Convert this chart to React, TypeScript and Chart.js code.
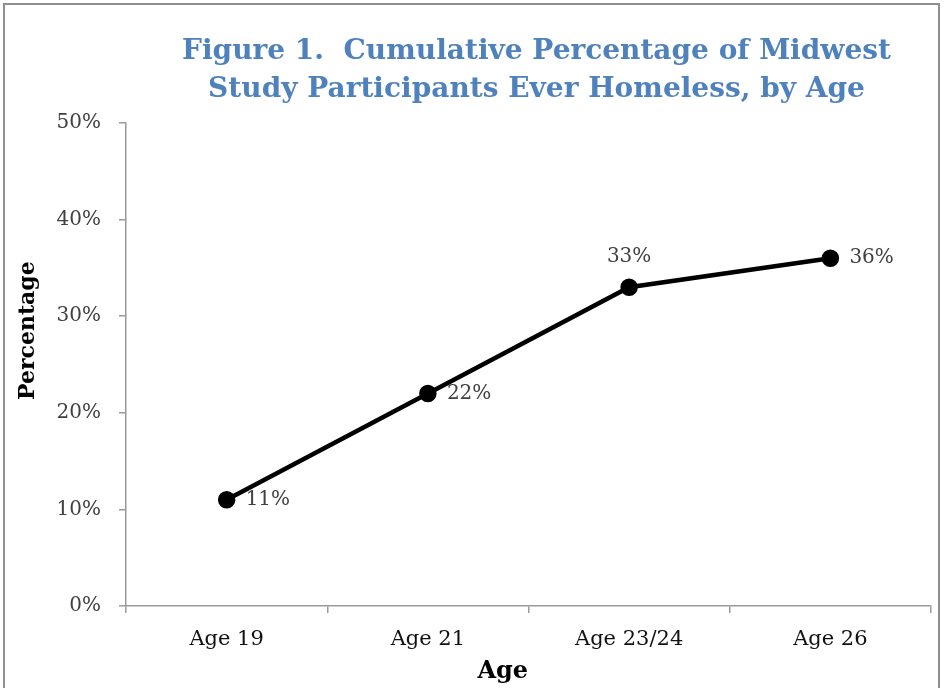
import React, { useEffect, useRef } from "react";
import { Chart, registerables } from "chart.js";

Chart.register(...registerables);

const categories = ["Age 19", "Age 21", "Age 23/24", "Age 26"];
const values = [11, 22, 33, 36];
const labelSides = ["right", "right", "top", "right"];
const yMin = 0;
const yMax = 50;
const yStep = 10;
const titleLines = [
  "Figure 1.  Cumulative Percentage of Midwest",
  "Study Participants Ever Homeless, by Age",
];
const yAxisTitle = "Percentage";
const xAxisTitle = "Age";

const SERIF = "'DejaVu Serif', 'Liberation Serif', serif";
const TEXT = "#404040";
const AXIS = "#9a9a9a";

const labelsPlugin = {
  id: "pointLabels",
  afterDatasetsDraw(chart: any) {
    const ctx = chart.ctx;
    const meta = chart.getDatasetMeta(0);
    ctx.save();
    ctx.font = `20px ${SERIF}`;
    ctx.fillStyle = TEXT;
    meta.data.forEach((pt: any, i: number) => {
      const txt = `${values[i]}%`;
      if (labelSides[i] === "top") {
        ctx.textAlign = "center";
        ctx.textBaseline = "middle";
        ctx.fillText(txt, pt.x, pt.y - 30);
      } else {
        ctx.textAlign = "left";
        ctx.textBaseline = "middle";
        ctx.fillText(txt, pt.x + 19, pt.y);
      }
    });
    ctx.restore();
  },
};

const titlesPlugin = {
  id: "titles",
  afterDraw(chart: any) {
    const ctx = chart.ctx;
    const a = chart.chartArea;
    ctx.save();
    ctx.textAlign = "center";
    ctx.textBaseline = "middle";
    ctx.fillStyle = "#4f81bd";
    ctx.font = `bold 28px ${SERIF}`;
    const cx = (a.left + a.right) / 2 + 8;
    titleLines.forEach((line, i) => {
      ctx.fillText(line, cx, 52 + i * 38);
    });
    ctx.fillStyle = "#000";
    ctx.font = `bold 24px ${SERIF}`;
    ctx.fillText(xAxisTitle, a.left + (a.right - a.left) * 0.468, 672);
    ctx.translate(28, a.top + (a.bottom - a.top) * 0.43);
    ctx.rotate(-Math.PI / 2);
    ctx.font = `bold 22px ${SERIF}`;
    ctx.fillText(yAxisTitle, 0, 0);
    ctx.restore();
  },
};

export default function App() {
  const ref = useRef<HTMLCanvasElement>(null);

  useEffect(() => {
    if (!ref.current) return;
    const chart = new Chart(ref.current, {
      type: "line",
      data: {
        labels: categories,
        datasets: [
          {
            data: values,
            borderColor: "#000",
            backgroundColor: "#000",
            borderWidth: 4.5,
            pointRadius: 6.5,
            pointBackgroundColor: "#000",
            pointBorderColor: "#000",
            tension: 0,
            fill: false,
          },
        ],
      },
      options: {
        animation: false,
        responsive: false,
        devicePixelRatio: 1,
        layout: { padding: { top: 123, left: 0, right: 14, bottom: 0 } },
        plugins: {
          legend: { display: false },
          tooltip: { enabled: false },
          title: { display: false },
        },
        scales: {
          x: {
            type: "category",
            offset: true,
            grid: {
              offset: true,
              drawOnChartArea: false,
              drawTicks: true,
              tickLength: 7,
              color: AXIS,
              lineWidth: 1.5,
            },
            border: { color: AXIS, width: 1.5 },
            ticks: {
              color: "#111",
              font: { family: SERIF, size: 21 },
              padding: 14,
            },
            afterFit(scale: any) {
              scale.height = 82;
            },
          },
          y: {
            min: yMin,
            max: yMax,
            grid: {
              drawOnChartArea: false,
              drawTicks: true,
              tickLength: 7,
              color: AXIS,
              lineWidth: 1.5,
            },
            border: { color: AXIS, width: 1.5 },
            ticks: {
              stepSize: yStep,
              color: TEXT,
              font: { family: SERIF, size: 20 },
              padding: 18,
              callback: (v: any) => `${v}%`,
            },
            afterFit(scale: any) {
              scale.width = 126;
            },
          },
        },
      },
      plugins: [labelsPlugin, titlesPlugin],
    });
    return () => chart.destroy();
  }, []);

  return (
    <div
      style={{
        position: "fixed",
        left: 0,
        top: 0,
        width: 945,
        height: 688,
        background: "#fff",
        overflow: "hidden",
      }}
    >
      <div
        style={{
          position: "absolute",
          left: 3,
          top: 3,
          width: 937,
          height: 720,
          border: "2px solid #8f8f8f",
          boxSizing: "border-box",
        }}
      />
      <canvas
        ref={ref}
        width={945}
        height={688}
        style={{ position: "absolute", left: 0, top: 0, width: 945, height: 688 }}
      />
    </div>
  );
}
